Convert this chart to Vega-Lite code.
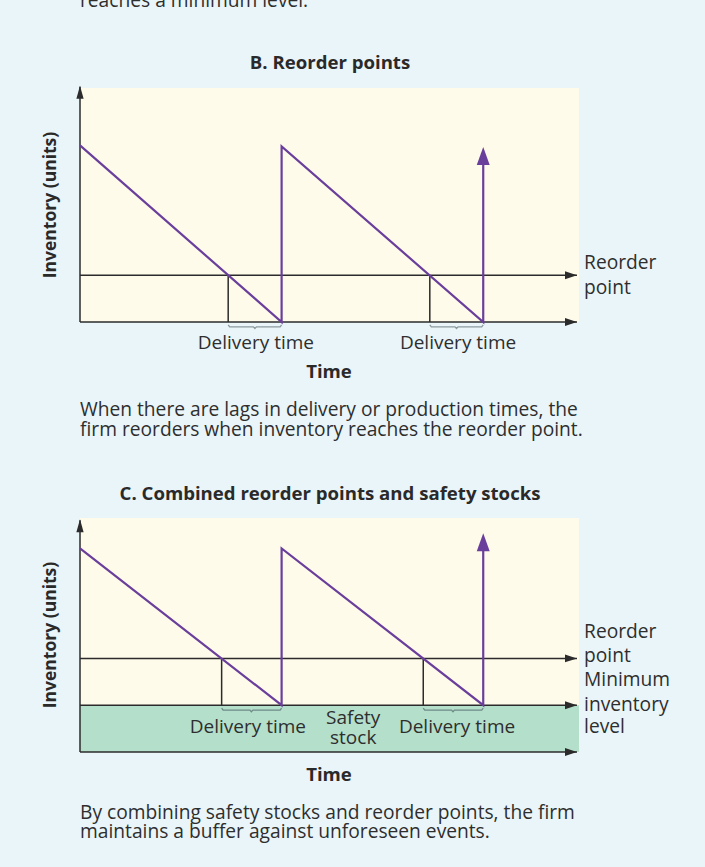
{
  "$schema": "https://vega.github.io/schema/vega-lite/v6.json",
  "width": 499,
  "height": 234,
  "autosize": {"type": "none"},
  "padding": {"left": 80, "top": 88, "right": 126, "bottom": 545},
  "background": "#eaf5f9",
  "config": {"view": {"stroke": null}, "font": "Open Sans"},
  "resolve": {"scale": {"y": "independent"}},
  "layer": [
    {
      "layer": [
        {
          "data": {"values": [{"t0": 0, "t1": 99, "v0": 0, "v1": 100}]},
          "mark": {"type": "rect", "color": "#fffbea"},
          "encoding": {
            "x": {"field": "t0", "type": "quantitative", "scale": {"domain": [0, 99], "nice": false, "zero": false}, "axis": null},
            "x2": {"field": "t1"},
            "y": {"field": "v0", "type": "quantitative", "scale": {"domain": [0, 100], "nice": false, "zero": false}, "axis": null},
            "y2": {"field": "v1"}
          }
        },
        {
          "data": {"values": [
            {"t0": 0, "t1": 98.6, "v0": 0, "v1": 0},
            {"t0": 0, "t1": 98.6, "v0": 20, "v1": 20},
            {"t0": 0, "t1": 0, "v0": 0, "v1": 100.5},
            {"t0": 29.4, "t1": 29.4, "v0": 0, "v1": 20},
            {"t0": 69.4, "t1": 69.4, "v0": 0, "v1": 20}
          ]},
          "mark": {"type": "rule", "color": "#2b2b2b", "strokeWidth": 1.5},
          "encoding": {
            "x": {"field": "t0", "type": "quantitative", "scale": {"domain": [0, 99], "nice": false, "zero": false}, "axis": null},
            "x2": {"field": "t1"},
            "y": {"field": "v0", "type": "quantitative", "scale": {"domain": [0, 100], "nice": false, "zero": false}, "axis": null},
            "y2": {"field": "v1"}
          }
        },
        {
          "data": {"values": [{"t": 98.6, "v": 0}, {"t": 98.6, "v": 20}]},
          "mark": {"type": "point", "shape": "M0,0L-1,-0.33L-1,0.33Z", "size": 576, "filled": true, "opacity": 1, "color": "#2b2b2b", "strokeWidth": 0},
          "encoding": {
            "x": {"field": "t", "type": "quantitative", "scale": {"domain": [0, 99], "nice": false, "zero": false}, "axis": null},
            "y": {"field": "v", "type": "quantitative", "scale": {"domain": [0, 100], "nice": false, "zero": false}, "axis": null}
          }
        },
        {
          "data": {"values": [{"t": 0, "v": 101}]},
          "mark": {"type": "point", "shape": "M0,0L-0.28,1L0.28,1Z", "size": 676, "filled": true, "opacity": 1, "color": "#2b2b2b", "strokeWidth": 0},
          "encoding": {
            "x": {"field": "t", "type": "quantitative", "scale": {"domain": [0, 99], "nice": false, "zero": false}, "axis": null},
            "y": {"field": "v", "type": "quantitative", "scale": {"domain": [0, 100], "nice": false, "zero": false}, "axis": null}
          }
        },
        {
          "data": {"values": [
            {"o": 1, "t": 0, "v": 75.5},
            {"o": 2, "t": 40, "v": 0},
            {"o": 3, "t": 40, "v": 75},
            {"o": 4, "t": 80, "v": 0},
            {"o": 5, "t": 80, "v": 68}
          ]},
          "mark": {"type": "line", "color": "#6a3f9c", "strokeWidth": 2.2},
          "encoding": {
            "x": {"field": "t", "type": "quantitative", "scale": {"domain": [0, 99], "nice": false, "zero": false}, "axis": null},
            "y": {"field": "v", "type": "quantitative", "scale": {"domain": [0, 100], "nice": false, "zero": false}, "axis": null},
            "order": {"field": "o"}
          }
        },
        {
          "data": {"values": [{"t": 80, "v": 74.8}]},
          "mark": {"type": "point", "shape": "M0,0L-0.36,1L0.36,1Z", "size": 1296, "filled": true, "opacity": 1, "color": "#6a3f9c", "strokeWidth": 0},
          "encoding": {
            "x": {"field": "t", "type": "quantitative", "scale": {"domain": [0, 99], "nice": false, "zero": false}, "axis": null},
            "y": {"field": "v", "type": "quantitative", "scale": {"domain": [0, 100], "nice": false, "zero": false}, "axis": null}
          }
        },
        {
          "data": {"values": [
            {"g": 1, "o": 1, "t": 29.4, "v": -1.2},
            {"g": 1, "o": 2, "t": 29.7, "v": -2.1},
            {"g": 1, "o": 3, "t": 34.4, "v": -2.1},
            {"g": 1, "o": 4, "t": 34.7, "v": -2.8},
            {"g": 1, "o": 5, "t": 35.0, "v": -2.1},
            {"g": 1, "o": 6, "t": 39.7, "v": -2.1},
            {"g": 1, "o": 7, "t": 40.0, "v": -1.2},
            {"g": 2, "o": 1, "t": 69.4, "v": -1.2},
            {"g": 2, "o": 2, "t": 69.7, "v": -2.1},
            {"g": 2, "o": 3, "t": 74.4, "v": -2.1},
            {"g": 2, "o": 4, "t": 74.7, "v": -2.8},
            {"g": 2, "o": 5, "t": 75.0, "v": -2.1},
            {"g": 2, "o": 6, "t": 79.7, "v": -2.1},
            {"g": 2, "o": 7, "t": 80.0, "v": -1.2}
          ]},
          "mark": {"type": "line", "color": "#8b9a9e", "strokeWidth": 1.3},
          "encoding": {
            "x": {"field": "t", "type": "quantitative", "scale": {"domain": [0, 99], "nice": false, "zero": false}, "axis": null},
            "y": {"field": "v", "type": "quantitative", "scale": {"domain": [0, 100], "nice": false, "zero": false}, "axis": null},
            "detail": {"field": "g"},
            "order": {"field": "o"}
          }
        },
        {
          "data": {"values": [
            {"label": "Delivery time", "t": 34.9, "v": -9.0},
            {"label": "Delivery time", "t": 75.0, "v": -9.0}
          ]},
          "mark": {"type": "text", "fontSize": 19, "color": "#2e2e2e", "align": "center", "baseline": "middle"},
          "encoding": {
            "x": {"field": "t", "type": "quantitative", "scale": {"domain": [0, 99], "nice": false, "zero": false}, "axis": null},
            "y": {"field": "v", "type": "quantitative", "scale": {"domain": [0, 100], "nice": false, "zero": false}, "axis": null},
            "text": {"field": "label"}
          }
        },
        {
          "data": {"values": [
            {"label": "B. Reorder points", "t": 49.6, "v": 110.7},
            {"label": "Time", "t": 49.4, "v": -21.4}
          ]},
          "mark": {"type": "text", "fontSize": 18.6, "fontWeight": "bold", "color": "#2a2a2a", "align": "center", "baseline": "middle"},
          "encoding": {
            "x": {"field": "t", "type": "quantitative", "scale": {"domain": [0, 99], "nice": false, "zero": false}, "axis": null},
            "y": {"field": "v", "type": "quantitative", "scale": {"domain": [0, 100], "nice": false, "zero": false}, "axis": null},
            "text": {"field": "label"}
          }
        },
        {
          "data": {"values": [{"label": "Inventory (units)", "t": -5.75, "v": 50}]},
          "mark": {"type": "text", "fontSize": 17.5, "fontWeight": "bold", "color": "#2a2a2a", "align": "center", "baseline": "middle", "angle": 270},
          "encoding": {
            "x": {"field": "t", "type": "quantitative", "scale": {"domain": [0, 99], "nice": false, "zero": false}, "axis": null},
            "y": {"field": "v", "type": "quantitative", "scale": {"domain": [0, 100], "nice": false, "zero": false}, "axis": null},
            "text": {"field": "label"}
          }
        },
        {
          "data": {"values": [
            {"label": "Reorder", "t": 100, "v": 25.2},
            {"label": "point", "t": 100, "v": 14.5},
            {"label": "When there are lags in delivery or production times, the", "t": 0, "v": -37.6},
            {"label": "firm reorders when inventory reaches the reorder point.", "t": 0, "v": -46.2},
            {"label": "reaches a minimum level.", "t": 0, "v": 137}
          ]},
          "mark": {"type": "text", "fontSize": 19.2, "color": "#2e2e2e", "align": "left", "baseline": "middle"},
          "encoding": {
            "x": {"field": "t", "type": "quantitative", "scale": {"domain": [0, 99], "nice": false, "zero": false}, "axis": null},
            "y": {"field": "v", "type": "quantitative", "scale": {"domain": [0, 100], "nice": false, "zero": false}, "axis": null},
            "text": {"field": "label"}
          }
        }
      ]
    },
    {
      "layer": [
        {
          "data": {"values": [{"t0": 0, "t1": 99, "v0": 20, "v1": 100}]},
          "mark": {"type": "rect", "color": "#fffbea"},
          "encoding": {
            "x": {"field": "t0", "type": "quantitative", "scale": {"domain": [0, 99], "nice": false, "zero": false}, "axis": null},
            "x2": {"field": "t1"},
            "y": {"field": "v0", "type": "quantitative", "scale": {"domain": [0, 100], "range": [664, 430], "nice": false, "zero": false}, "axis": null},
            "y2": {"field": "v1"}
          }
        },
        {
          "data": {"values": [{"t0": 0, "t1": 99, "v0": 0, "v1": 20}]},
          "mark": {"type": "rect", "color": "#b4dfcb"},
          "encoding": {
            "x": {"field": "t0", "type": "quantitative", "scale": {"domain": [0, 99], "nice": false, "zero": false}, "axis": null},
            "x2": {"field": "t1"},
            "y": {"field": "v0", "type": "quantitative", "scale": {"domain": [0, 100], "range": [664, 430], "nice": false, "zero": false}, "axis": null},
            "y2": {"field": "v1"}
          }
        },
        {
          "data": {"values": [
            {"t0": 0, "t1": 98.6, "v0": 0, "v1": 0},
            {"t0": 0, "t1": 98.6, "v0": 20, "v1": 20},
            {"t0": 0, "t1": 98.6, "v0": 40, "v1": 40},
            {"t0": 0, "t1": 0, "v0": 0, "v1": 99},
            {"t0": 28.1, "t1": 28.1, "v0": 20, "v1": 40},
            {"t0": 68.1, "t1": 68.1, "v0": 20, "v1": 40}
          ]},
          "mark": {"type": "rule", "color": "#2b2b2b", "strokeWidth": 1.5},
          "encoding": {
            "x": {"field": "t0", "type": "quantitative", "scale": {"domain": [0, 99], "nice": false, "zero": false}, "axis": null},
            "x2": {"field": "t1"},
            "y": {"field": "v0", "type": "quantitative", "scale": {"domain": [0, 100], "range": [664, 430], "nice": false, "zero": false}, "axis": null},
            "y2": {"field": "v1"}
          }
        },
        {
          "data": {"values": [{"t": 98.6, "v": 0}, {"t": 98.6, "v": 20}, {"t": 98.6, "v": 40}]},
          "mark": {"type": "point", "shape": "M0,0L-1,-0.33L-1,0.33Z", "size": 576, "filled": true, "opacity": 1, "color": "#2b2b2b", "strokeWidth": 0},
          "encoding": {
            "x": {"field": "t", "type": "quantitative", "scale": {"domain": [0, 99], "nice": false, "zero": false}, "axis": null},
            "y": {"field": "v", "type": "quantitative", "scale": {"domain": [0, 100], "range": [664, 430], "nice": false, "zero": false}, "axis": null}
          }
        },
        {
          "data": {"values": [{"t": 0, "v": 99.5}]},
          "mark": {"type": "point", "shape": "M0,0L-0.28,1L0.28,1Z", "size": 676, "filled": true, "opacity": 1, "color": "#2b2b2b", "strokeWidth": 0},
          "encoding": {
            "x": {"field": "t", "type": "quantitative", "scale": {"domain": [0, 99], "nice": false, "zero": false}, "axis": null},
            "y": {"field": "v", "type": "quantitative", "scale": {"domain": [0, 100], "range": [664, 430], "nice": false, "zero": false}, "axis": null}
          }
        },
        {
          "data": {"values": [
            {"o": 1, "t": 0, "v": 87},
            {"o": 2, "t": 40, "v": 20},
            {"o": 3, "t": 40, "v": 87},
            {"o": 4, "t": 80, "v": 20},
            {"o": 5, "t": 80, "v": 87}
          ]},
          "mark": {"type": "line", "color": "#6a3f9c", "strokeWidth": 2.2},
          "encoding": {
            "x": {"field": "t", "type": "quantitative", "scale": {"domain": [0, 99], "nice": false, "zero": false}, "axis": null},
            "y": {"field": "v", "type": "quantitative", "scale": {"domain": [0, 100], "range": [664, 430], "nice": false, "zero": false}, "axis": null},
            "order": {"field": "o"}
          }
        },
        {
          "data": {"values": [{"t": 80, "v": 93.5}]},
          "mark": {"type": "point", "shape": "M0,0L-0.36,1L0.36,1Z", "size": 1296, "filled": true, "opacity": 1, "color": "#6a3f9c", "strokeWidth": 0},
          "encoding": {
            "x": {"field": "t", "type": "quantitative", "scale": {"domain": [0, 99], "nice": false, "zero": false}, "axis": null},
            "y": {"field": "v", "type": "quantitative", "scale": {"domain": [0, 100], "range": [664, 430], "nice": false, "zero": false}, "axis": null}
          }
        },
        {
          "data": {"values": [
            {"g": 1, "o": 1, "t": 28.1, "v": 18.8},
            {"g": 1, "o": 2, "t": 28.4, "v": 17.9},
            {"g": 1, "o": 3, "t": 33.7, "v": 17.9},
            {"g": 1, "o": 4, "t": 34.0, "v": 17.2},
            {"g": 1, "o": 5, "t": 34.3, "v": 17.9},
            {"g": 1, "o": 6, "t": 39.7, "v": 17.9},
            {"g": 1, "o": 7, "t": 40.0, "v": 18.8},
            {"g": 2, "o": 1, "t": 68.1, "v": 18.8},
            {"g": 2, "o": 2, "t": 68.4, "v": 17.9},
            {"g": 2, "o": 3, "t": 73.7, "v": 17.9},
            {"g": 2, "o": 4, "t": 74.0, "v": 17.2},
            {"g": 2, "o": 5, "t": 74.3, "v": 17.9},
            {"g": 2, "o": 6, "t": 79.7, "v": 17.9},
            {"g": 2, "o": 7, "t": 80.0, "v": 18.8}
          ]},
          "mark": {"type": "line", "color": "#6f8a88", "strokeWidth": 1.3},
          "encoding": {
            "x": {"field": "t", "type": "quantitative", "scale": {"domain": [0, 99], "nice": false, "zero": false}, "axis": null},
            "y": {"field": "v", "type": "quantitative", "scale": {"domain": [0, 100], "range": [664, 430], "nice": false, "zero": false}, "axis": null},
            "detail": {"field": "g"},
            "order": {"field": "o"}
          }
        },
        {
          "data": {"values": [
            {"label": "Delivery time", "t": 33.3, "v": 10.7},
            {"label": "Delivery time", "t": 74.8, "v": 10.7},
            {"label": "Safety", "t": 54.2, "v": 14.7},
            {"label": "stock", "t": 54.2, "v": 5.9}
          ]},
          "mark": {"type": "text", "fontSize": 19, "color": "#2e2e2e", "align": "center", "baseline": "middle"},
          "encoding": {
            "x": {"field": "t", "type": "quantitative", "scale": {"domain": [0, 99], "nice": false, "zero": false}, "axis": null},
            "y": {"field": "v", "type": "quantitative", "scale": {"domain": [0, 100], "range": [664, 430], "nice": false, "zero": false}, "axis": null},
            "text": {"field": "label"}
          }
        },
        {
          "data": {"values": [
            {"label": "C. Combined reorder points and safety stocks", "t": 49.6, "v": 110.3},
            {"label": "Time", "t": 49.4, "v": -9.8}
          ]},
          "mark": {"type": "text", "fontSize": 18.6, "fontWeight": "bold", "color": "#2a2a2a", "align": "center", "baseline": "middle"},
          "encoding": {
            "x": {"field": "t", "type": "quantitative", "scale": {"domain": [0, 99], "nice": false, "zero": false}, "axis": null},
            "y": {"field": "v", "type": "quantitative", "scale": {"domain": [0, 100], "range": [664, 430], "nice": false, "zero": false}, "axis": null},
            "text": {"field": "label"}
          }
        },
        {
          "data": {"values": [{"label": "Inventory (units)", "t": -5.75, "v": 50}]},
          "mark": {"type": "text", "fontSize": 17.5, "fontWeight": "bold", "color": "#2a2a2a", "align": "center", "baseline": "middle", "angle": 270},
          "encoding": {
            "x": {"field": "t", "type": "quantitative", "scale": {"domain": [0, 99], "nice": false, "zero": false}, "axis": null},
            "y": {"field": "v", "type": "quantitative", "scale": {"domain": [0, 100], "range": [664, 430], "nice": false, "zero": false}, "axis": null},
            "text": {"field": "label"}
          }
        },
        {
          "data": {"values": [
            {"label": "Reorder", "t": 100, "v": 51.3},
            {"label": "point", "t": 100, "v": 41.0},
            {"label": "Minimum", "t": 100, "v": 30.8},
            {"label": "inventory", "t": 100, "v": 20.1},
            {"label": "level", "t": 100, "v": 10.7},
            {"label": "By combining safety stocks and reorder points, the firm", "t": 0, "v": -26.1},
            {"label": "maintains a buffer against unforeseen events.", "t": 0, "v": -34.2}
          ]},
          "mark": {"type": "text", "fontSize": 19.2, "color": "#2e2e2e", "align": "left", "baseline": "middle"},
          "encoding": {
            "x": {"field": "t", "type": "quantitative", "scale": {"domain": [0, 99], "nice": false, "zero": false}, "axis": null},
            "y": {"field": "v", "type": "quantitative", "scale": {"domain": [0, 100], "range": [664, 430], "nice": false, "zero": false}, "axis": null},
            "text": {"field": "label"}
          }
        }
      ]
    }
  ]
}
